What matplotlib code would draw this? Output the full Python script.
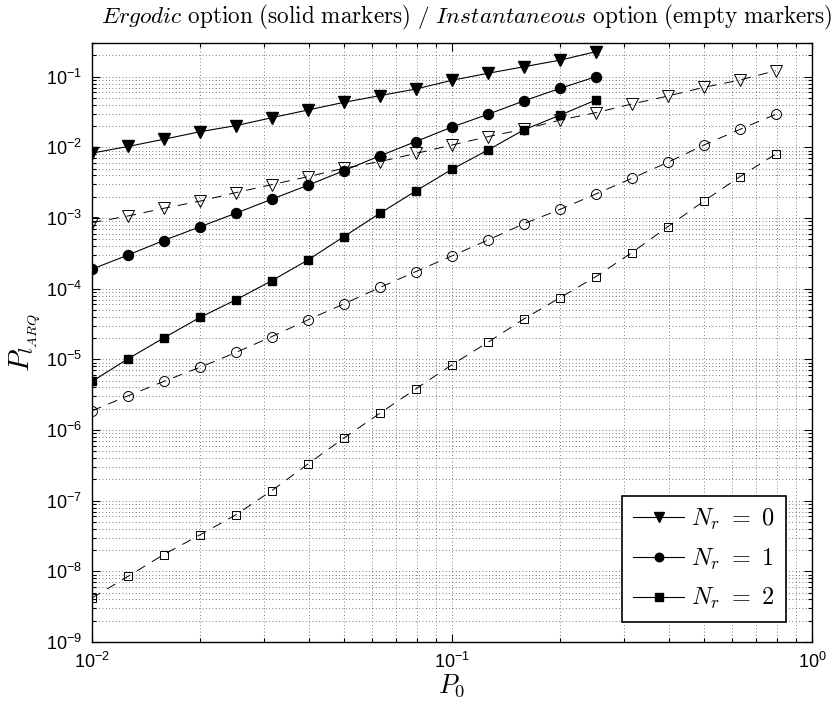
import matplotlib
matplotlib.use('Agg')
import matplotlib.pyplot as plt
from matplotlib.ticker import LogLocator, FuncFormatter, NullFormatter
import numpy as np

# Data
p0 = [0.01, 0.0126, 0.0158, 0.02, 0.0251, 0.0316, 0.0398, 0.0501, 0.0631, 0.0794,
      0.1, 0.126, 0.158, 0.2, 0.251, 0.316, 0.398, 0.501, 0.631, 0.794]
p0_erg = p0[:15]

# Ergodic (solid markers)
erg_nr0 = [8.3e-3, 1.03e-2, 1.30e-2, 1.67e-2, 2.03e-2, 2.63e-2, 3.38e-2, 4.34e-2,
           5.4e-2, 6.7e-2, 8.9e-2, 1.12e-1, 1.38e-1, 1.72e-1, 2.26e-1]
erg_nr1 = [1.89e-4, 3.0e-4, 4.8e-4, 7.55e-4, 1.17e-3, 1.85e-3, 2.91e-3, 4.68e-3,
           7.6e-3, 1.21e-2, 1.94e-2, 2.94e-2, 4.53e-2, 6.86e-2, 1.0e-1]
erg_nr2 = [4.86e-6, 1.02e-5, 2.0e-5, 3.95e-5, 6.95e-5, 1.30e-4, 2.55e-4, 5.46e-4,
           1.17e-3, 2.42e-3, 4.9e-3, 9.2e-3, 1.76e-2, 2.87e-2, 4.68e-2]

# Instantaneous (empty markers)
ins_nr0 = [8.6e-4, 1.07e-3, 1.37e-3, 1.74e-3, 2.29e-3, 2.97e-3, 3.85e-3, 5.06e-3,
           6.3e-3, 8.2e-3, 1.08e-2, 1.42e-2, 1.80e-2, 2.44e-2, 3.1e-2, 4.11e-2,
           5.33e-2, 7.08e-2, 8.98e-2, 1.22e-1]
ins_nr1 = [1.87e-6, 3.05e-6, 4.86e-6, 7.76e-6, 1.25e-5, 2.1e-5, 3.62e-5, 6.1e-5,
           1.04e-4, 1.75e-4, 2.91e-4, 4.9e-4, 8.25e-4, 1.33e-3, 2.19e-3, 3.65e-3,
           6.15e-3, 1.08e-2, 1.80e-2, 2.94e-2]
ins_nr2 = [4.19e-9, 8.5e-9, 1.72e-8, 3.3e-8, 6.3e-8, 1.39e-7, 3.3e-7, 7.7e-7,
           1.73e-6, 3.83e-6, 8.4e-6, 1.75e-5, 3.7e-5, 7.5e-5, 1.48e-4, 3.24e-4,
           7.55e-4, 1.74e-3, 3.85e-3, 8.07e-3]

labels = [r'$N_r\ =\ 0$', r'$N_r\ =\ 1$', r'$N_r\ =\ 2$']

# Sans tick labels, Computer Modern elsewhere
plt.rcParams['font.family'] = 'Liberation Sans'
plt.rcParams['mathtext.fontset'] = 'custom'
plt.rcParams['mathtext.rm'] = 'Liberation Sans'
plt.rcParams['mathtext.it'] = 'Liberation Sans:italic'
plt.rcParams['mathtext.bf'] = 'Liberation Sans:bold'

fig = plt.figure(figsize=(8.34, 7.05), dpi=100)
ax = fig.add_axes([0.1103, 0.0894, 0.8633, 0.8496])

ax.plot(p0_erg, erg_nr0, 'k-', marker='v', ms=8.6, lw=0.8, label=labels[0])
ax.plot(p0_erg, erg_nr1, 'k-', marker='o', ms=7.2, lw=0.8, label=labels[1])
ax.plot(p0_erg, erg_nr2, 'k-', marker='s', ms=6.0, lw=0.8, label=labels[2])

ax.plot(p0, ins_nr0, 'k--', marker='v', ms=8.6, mfc='none', mew=0.7, lw=0.7, dashes=(10, 8))
ax.plot(p0, ins_nr1, 'k--', marker='o', ms=7.2, mfc='none', mew=0.7, lw=0.7, dashes=(10, 8))
ax.plot(p0, ins_nr2, 'k--', marker='s', ms=5.6, mfc='none', mew=0.7, lw=0.7, dashes=(10, 8))

ax.set_xscale('log')
ax.set_yscale('log')
ax.set_xlim(1e-2, 1e0)
ax.set_ylim(1e-9, 0.3)

ax.xaxis.set_major_locator(LogLocator(base=10, numticks=10))
ax.yaxis.set_major_locator(LogLocator(base=10, numticks=20))
ax.xaxis.set_minor_locator(LogLocator(base=10, subs=np.arange(2, 10), numticks=20))
ax.yaxis.set_minor_locator(LogLocator(base=10, subs=np.arange(2, 10), numticks=20))
fmt = FuncFormatter(lambda v, pos: r'$10^{%d}$' % int(round(np.log10(v))))
ax.xaxis.set_major_formatter(fmt)
ax.yaxis.set_major_formatter(fmt)
ax.xaxis.set_minor_formatter(NullFormatter())
ax.yaxis.set_minor_formatter(NullFormatter())

ax.tick_params(which='both', direction='in', top=True, right=True, labelsize=13, width=0.8)
ax.tick_params(which='major', length=6, pad=7)
ax.tick_params(which='minor', length=3)

ax.grid(True, which='major', linestyle=(0, (1, 3)), color='0.3', lw=0.6)
ax.grid(True, which='minor', linestyle=(0, (1, 3)), color='0.3', lw=0.6)
for s in ax.spines.values():
    s.set_linewidth(1.0)

ax.set_xlabel(r'$P_0$', fontsize=19, math_fontfamily='cm', labelpad=0)
ax.set_ylabel(r'$P_{l_{ARQ}}$', fontsize=21, math_fontfamily='cm', labelpad=2)
ax.set_title(r'$\mathit{Ergodic}\ \mathrm{option\ (solid\ markers)\ /\ }\mathit{Instantaneous}\ \mathrm{option\ (empty\ markers)}$',
             fontsize=16.7, math_fontfamily='cm', pad=14, x=0.521)

leg = ax.legend(loc='lower right', bbox_to_anchor=(0.964, 0.033), borderaxespad=0,
                fontsize=17.5, fancybox=False, framealpha=1,
                edgecolor='k', markerscale=0.85, handlelength=2.1, handletextpad=0.3,
                labelspacing=0.6, borderpad=0.45)
leg.get_frame().set_linewidth(1.2)
for t in leg.get_texts():
    t.set_math_fontfamily('cm')

plt.savefig('out.png', dpi=100)
